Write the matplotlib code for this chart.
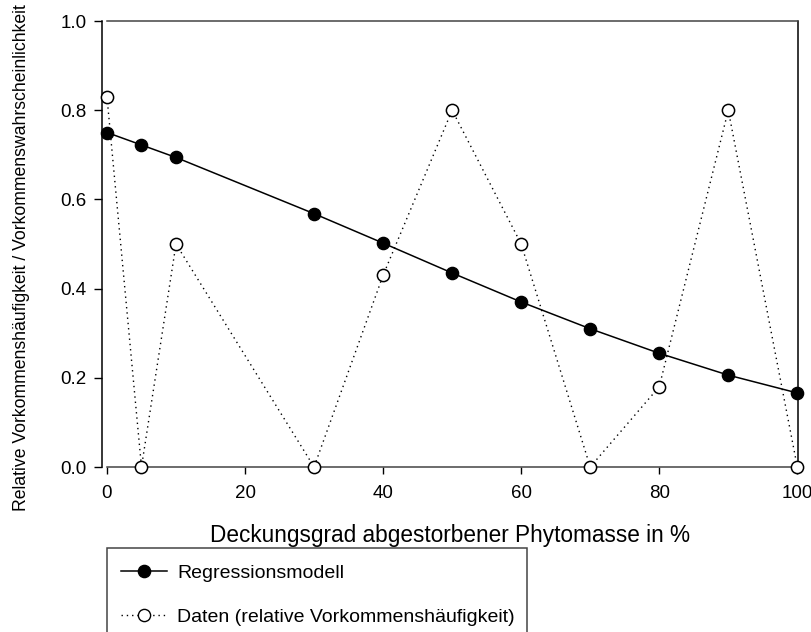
import matplotlib
matplotlib.use('Agg')
import matplotlib.pyplot as plt
from matplotlib.lines import Line2D
from matplotlib.patches import Rectangle
import numpy as np

plt.rcParams['font.family'] = ['Liberation Sans', 'DejaVu Sans']

# Deckungsgrad abgestorbener Phytomasse (%)
x_model = [0, 5, 10, 30, 40, 50, 60, 70, 80, 90, 100]
y_model = [0.75, 0.722, 0.694, 0.568, 0.502, 0.435, 0.37, 0.31, 0.255, 0.206, 0.166]

x_data = [0, 5, 10, 30, 40, 50, 60, 70, 80, 90, 100]
y_data = [0.83, 0.0, 0.50, 0.0, 0.43, 0.80, 0.50, 0.0, 0.18, 0.80, 0.0]

x_ticks = [0, 20, 40, 60, 80, 100]
y_ticks = [0.0, 0.2, 0.4, 0.6, 0.8, 1.0]

W, H = 812, 632
dots = (0, (1, 2.8))

fig = plt.figure(figsize=(W / 100, H / 100), dpi=100)
ax = fig.add_axes([102 / W, 1 - 467 / H, (798 - 102) / W, (467 - 21) / H])

ax.plot(x_data, y_data, color='black', lw=1, ls=dots, zorder=2, clip_on=False)
ax.plot(x_model, y_model, color='black', lw=1.1, marker='o', ms=8.8,
        mfc='black', mec='black', zorder=3, clip_on=False)
ax.plot(x_data, y_data, ls='none', marker='o', ms=8.8, mfc='white',
        mec='black', mew=1.1, zorder=4, clip_on=False)

ax.set_xlim(-0.72, 100.1)
ax.set_ylim(0, 1)
ax.set_xticks(x_ticks)
ax.set_yticks(y_ticks)
ax.set_yticklabels(['%.1f' % v for v in y_ticks])
ax.tick_params(axis='both', direction='out', labelsize=13.5, width=1, color='black')
ax.tick_params(axis='x', length=5, pad=8)
ax.tick_params(axis='y', length=6, pad=5)

for s in ['top', 'bottom']:
    ax.spines[s].set_bounds(0, 100)
    ax.spines[s].set_color('#444444')
    ax.spines[s].set_linewidth(1.1)
for s in ['left', 'right']:
    ax.spines[s].set_color('black')
    ax.spines[s].set_linewidth(1.1)

ax.set_xlabel('Deckungsgrad abgestorbener Phytomasse in %', fontsize=16.3, labelpad=16)
ax.set_ylabel('Relative Vorkommenshäufigkeit / Vorkommenswahrscheinlichkeit', fontsize=12.7)
ax.yaxis.set_label_coords((30 - 102) / 696, (467 - 258) / 446)

handles = [
    Line2D([], [], color='black', lw=1.1, marker='o', ms=8.8, mfc='black', mec='black'),
    Line2D([], [], color='black', lw=1, ls=dots, marker='o', ms=8.8,
           mfc='white', mec='black'),
]
labels = ['Regressionsmodell', 'Daten (relative Vorkommenshäufigkeit)']
fig.legend(handles, labels, loc='center left', bbox_to_anchor=(121 / W, 1 - 595 / H),
           frameon=False, fontsize=14, handlelength=2.37, handletextpad=0.52,
           labelspacing=1.36, borderpad=0, borderaxespad=0)

fig.patches.append(Rectangle((107 / W, -0.05), (527 - 107) / W, (1 - 548 / H) + 0.05,
                             transform=fig.transFigure, fill=False,
                             edgecolor='#444444', lw=1.1))

fig.savefig('out.png', dpi=100)
